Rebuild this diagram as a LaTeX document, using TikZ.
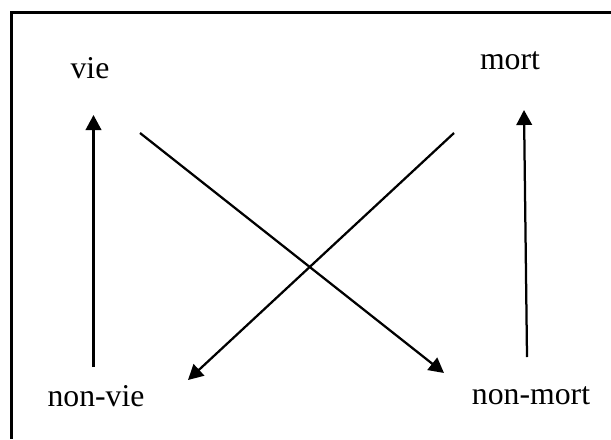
\documentclass[tikz,border=0pt]{standalone}
\usepackage{fontspec}
\setmainfont{Liberation Serif}
\usetikzlibrary{arrows.meta}

\begin{document}
\begin{tikzpicture}[x=0.4pt, y=-0.4pt,
  lbl/.style={anchor=base, inner sep=0pt, font=\fontsize{12.7}{15}\selectfont},
  arrow/.style={-{Triangle[length=6pt, width=6.2pt]}, line width=0.9pt},
]
  \useasboundingbox (0,0) rectangle (611,439);
  % frame (cut at right and bottom)
  \draw[line width=1.2pt] (611,12.7) -- (11,12.7) -- (11,439);

  \node[lbl] (vie) at (90,79) {vie};
  \node[lbl] (mort) at (510,70) {mort};
  \node[lbl] (nonvie) at (96,406) {non-vie};
  \node[lbl] (nonmort) at (531,404) {non-mort};

  \coordinate (vieIn) at (93.5,115);
  \coordinate (vieOut) at (140,133);
  \coordinate (mortIn) at (524,110);
  \coordinate (mortOut) at (454,133);
  \coordinate (nonvieIn) at (188,380);
  \coordinate (nonvieOut) at (93.5,367);
  \coordinate (nonmortIn) at (444,373);
  \coordinate (nonmortOut) at (527,357);

  \draw[arrow] (nonvieOut) -- (vieIn);
  \draw[arrow] (nonmortOut) -- (mortIn);
  \draw[arrow] (vieOut) -- (nonmortIn);
  \draw[arrow] (mortOut) -- (nonvieIn);
\end{tikzpicture}
\end{document}
